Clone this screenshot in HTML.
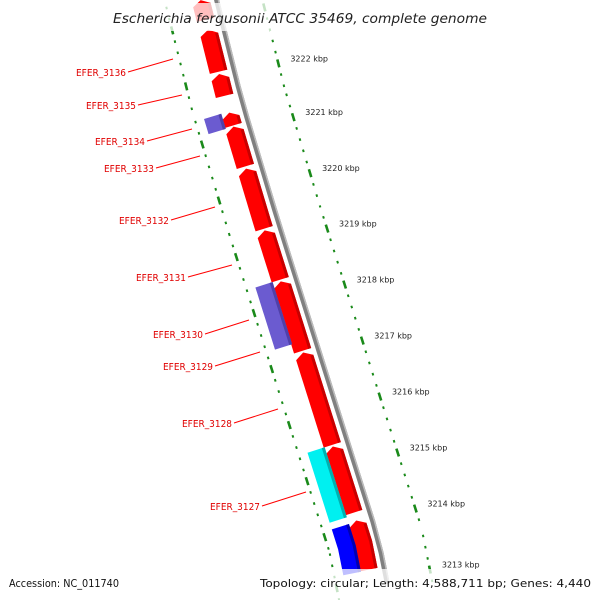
<!DOCTYPE html>
<html><head><meta charset="utf-8"><style>
html,body{margin:0;background:#fff;overflow:hidden;width:600px;height:600px}
svg{display:block;font-family:"DejaVu Sans","Liberation Sans",sans-serif;overflow:hidden}
</style></head><body>
<svg id="c" width="600" height="600" viewBox="0 0 600 600">
<g id="rulers"></g>
<g id="backbone"></g>
<g id="genes"></g>
<g id="labels"></g>
<rect x="108" y="3" width="384" height="28" fill="#fff" opacity="0.75"/>
<text x="113" y="23" font-size="13" font-style="italic" fill="#222" textLength="374" lengthAdjust="spacingAndGlyphs">Escherichia fergusonii ATCC 35469, complete genome</text>
<rect x="0" y="569" width="600" height="31" fill="#fff" opacity="0.75"/>
<text x="9" y="587" font-size="11" fill="#111" textLength="110" lengthAdjust="spacingAndGlyphs">Accession: NC_011740</text>
<text x="260" y="587" font-size="11" fill="#111" textLength="331" lengthAdjust="spacingAndGlyphs">Topology: circular; Length: 4,588,711 bp; Genes: 4,440</text>
</svg>
<script>
const geneStart=[3223.39,3222.86,3222.07,3221.39,3221.14,3220.39,3219.29,3218.38,3217.11,3215.43,3214.11];
const geneEnd=[3223.04,3222.11,3221.68,3221.16,3220.43,3219.32,3218.41,3217.14,3215.46,3214.25,3213.21];
const revStart=[3221.41,3218.41];
const revEnd=[3221.14,3217.30];
const cyanStart=[3215.46];
const cyanEnd=[3214.21];
const blueStart=[3214.09];
const blueEnd=[3213.20];
const tickKbp=[3222,3221,3220,3219,3218,3217,3216,3215,3214,3213];
const labelNames=["EFER_3136","EFER_3135","EFER_3134","EFER_3133","EFER_3132","EFER_3131","EFER_3130","EFER_3129","EFER_3128","EFER_3127"];
const NS="http://www.w3.org/2000/svg";
const bx=[[0,213],[100,238],[220,274],[420,337],[540,375],[640,395]];
function X(y){for(let i=0;i<bx.length-1;i++){const a=bx[i],b=bx[i+1];if(y<=b[0]||i==bx.length-2){return a[1]+(b[1]-a[1])*(y-a[0])/(b[0]-a[0]);}}}
function Yb(k){return 75+(3222-k)*56;}
function P(k,d){const y=Yb(k);const s=(X(y+1)-X(y-1))/2;const n=Math.sqrt(1+s*s);return [X(y)+d/n,y-d*s/n];}
function el(t,a,p){const e=document.createElementNS(NS,t);for(const q in a)e.setAttribute(q,a[q]);p.appendChild(e);return e;}
const R=document.getElementById('rulers'),B=document.getElementById('backbone'),G=document.getElementById('genes'),L=document.getElementById('labels');
function strip(k0,k1,d0,d1){const pts=[];const N=20;for(let i=0;i<=N;i++){pts.push(P(k0+(k1-k0)*i/N,d0));}for(let i=N;i>=0;i--){pts.push(P(k0+(k1-k0)*i/N,d1));}return pts.map(p=>p.join(',')).join(' ');}
let bb=el('polygon',{points:strip(3224,3212.9,1,6),fill:'#808080'},B);


let bb2=el('polygon',{points:strip(3224,3212.9,4.5,6),fill:'#bbb'},B);


for(let side of [48,-47]){
  for(let t=32240;t>=32128;t-=2){
    const k=t/10;const major=(t%10===0);const len=major?0.07:0.022;
    const a=P(k+len,side),b=P(k-len,side);
    const ln=el('line',{x1:a[0],y1:a[1],x2:b[0],y2:b[1],stroke:'#1a8a1a','stroke-width':major?2.6:2},R);
    
    
  }
}
tickKbp.forEach(k=>{const p=P(k,48);const t=el('text',{x:p[0]+12,y:p[1]-2,'font-size':8,fill:'#222'},R);t.textContent=k+' kbp';

});
function arrowGene(k0,k1,d0,d1,fill,dark,name){
  const head=Math.min(0.09,(k0-k1)*0.4);
  const pts=[];const N=16;
  pts.push(P(k0,(d0+d1)/2));
  for(let i=0;i<=N;i++)pts.push(P(k0-head-(k0-head-k1)*i/N,d1));
  for(let i=N;i>=0;i--)pts.push(P(k0-head-(k0-head-k1)*i/N,d0));
  const g=el('polygon',{points:pts.map(p=>p.join(',')).join(' '),fill:fill},G);
  
  
  const s=el('polygon',{points:strip(k0-head,k1,d1-3,d1),fill:dark},G);
  
  
}
function boxGene(k0,k1,d0,d1,fill,dark,name){
  const g=el('polygon',{points:strip(k0,k1,d0,d1),fill:fill},G);
  
  
  const s=el('polygon',{points:strip(k0,k1,d1-3,d1),fill:dark},G);
  
  
}
geneStart.forEach((k,i)=>arrowGene(k,geneEnd[i],-21,-3,'#ff0000','#c80000','forward-gene'));
revStart.forEach((k,i)=>boxGene(k,revEnd[i],-38,-20,'#6b5bd0','#5040a8','reverse-gene'));
cyanStart.forEach((k,i)=>boxGene(k,cyanEnd[i],-38,-20,'#00f0f0','#00b0b0','rna-gene'));
blueStart.forEach((k,i)=>boxGene(k,blueEnd[i],-38,-20,'#0000ff','#0000b0','blue-gene'));
const lab=[[126,72,173,59],[136,105,182,95],[145,141,192,129],[154,168,200,156],[169,220,215,207],[186,277,232,265],[203,334,249,320],[213,366,260,352],[232,423,278,409],[260,506,306,492]];
labelNames.forEach((n,i)=>{const a=lab[i];
  const t=el('text',{x:a[0]-50,y:a[1]+4,'font-size':10,textLength:50,lengthAdjust:'spacingAndGlyphs',fill:'#e00000'},L);t.textContent=n;
  
  
  const ln=el('line',{x1:a[0]+2,y1:a[1],x2:a[2],y2:a[3],stroke:'#ff0000','stroke-width':1},L);
  
  
});
</script>
</body></html>
